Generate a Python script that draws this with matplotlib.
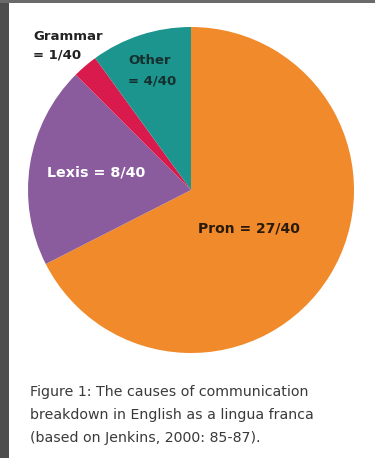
import matplotlib
matplotlib.use("Agg")
import matplotlib.pyplot as plt
from matplotlib.patches import Rectangle

categories = ["Pron", "Lexis", "Grammar", "Other"]
values = [27, 8, 1, 4]
total = 40
colors = ["#F08A2A", "#8A5C9E", "#D81B4C", "#1C958F"]
caption_lines = ["Figure 1: The causes of communication",
                 "breakdown in English as a lingua franca",
                 "(based on Jenkins, 2000: 85-87)."]

W, H = 375, 458
fig = plt.figure(figsize=(W / 100, H / 100), dpi=100)
fig.patch.set_facecolor("white")

def fx(x):
    return x / W

def fy(y):
    return 1 - y / H

# pie axes
cx, cy, r = 191, 190, 163
ax = fig.add_axes([fx(cx - r), fy(cy + r), 2 * r / W, 2 * r / H])
ax.pie(values, colors=colors, startangle=90, counterclock=False,
       radius=1, wedgeprops=dict(linewidth=0))
ax.set_xlim(-1, 1)
ax.set_ylim(-1, 1)
ax.set_aspect("auto")
ax.axis("off")

# borders
fig.patches.append(Rectangle((0, 0), fx(9), 1, transform=fig.transFigure,
                             facecolor="#4d4d4d", edgecolor="none"))
fig.patches.append(Rectangle((0, fy(3)), 1, 3 / H, transform=fig.transFigure,
                             facecolor="#6a6a6a", edgecolor="none"))

fam = ["DejaVu Sans"]
lab = {c: f"{c} = {v}/{total}" for c, v in zip(categories, values)}

fig.text(fx(33), fy(37), "Grammar", ha="left", va="center",
         fontsize=9.5, fontweight="bold", color="#222222", family=fam)
fig.text(fx(33), fy(55), "= 1/40", ha="left", va="center",
         fontsize=9.5, fontweight="bold", color="#222222", family=fam)
fig.text(fx(128), fy(60), "Other", ha="left", va="center",
         fontsize=9.5, fontweight="bold", color="#15302e", family=fam)
fig.text(fx(128), fy(81), "= 4/40", ha="left", va="center",
         fontsize=9.5, fontweight="bold", color="#15302e", family=fam)
fig.text(fx(47), fy(173), lab["Lexis"], ha="left", va="center",
         fontsize=10.3, fontweight="bold", color="white", family=fam)
fig.text(fx(198), fy(228), lab["Pron"], ha="left", va="center",
         fontsize=10, fontweight="bold", color="#2a1a0a", family=fam)

for i, line in enumerate(caption_lines):
    fig.text(fx(30), fy(392 + 23 * i), line, ha="left", va="center",
             fontsize=10.2, color="#3a3a3a", family=fam)

fig.savefig("out.png", dpi=100)
